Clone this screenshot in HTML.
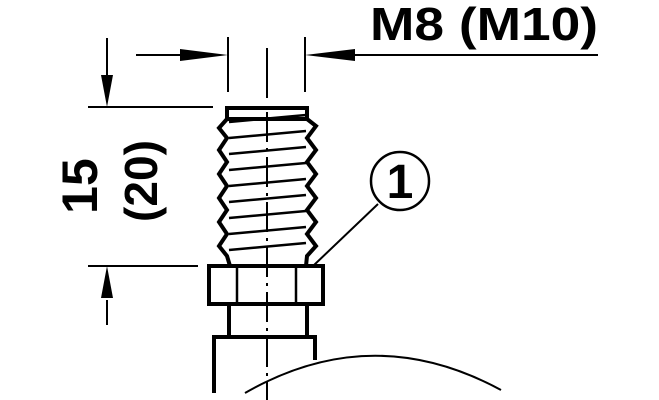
<!DOCTYPE html>
<html><head><style>html,body{margin:0;padding:0;background:#fff}svg{display:block}</style></head>
<body>
<svg width="659" height="400" viewBox="0 0 659 400" xmlns="http://www.w3.org/2000/svg">
<g stroke="#000" fill="none" stroke-width="2">
<line x1="228" y1="37" x2="228" y2="92"/>
<line x1="305" y1="37" x2="305" y2="92"/>
<line x1="267" y1="48" x2="267" y2="98"/>
<line x1="136" y1="55" x2="190" y2="55"/>
<line x1="345" y1="55" x2="598" y2="55"/>
<line x1="88" y1="107" x2="213" y2="107"/>
<line x1="88" y1="266" x2="198" y2="266"/>
<line x1="107" y1="38" x2="107" y2="80"/>
<line x1="107" y1="300" x2="107" y2="325"/>
<line x1="378" y1="204" x2="313" y2="266"/>
<circle cx="400" cy="181" r="29" stroke-width="2.5"/>
<path d="M245 393 Q372 320 501 390"/>
</g>
<g fill="#000">
<polygon points="228,55 180,49 180,61"/>
<polygon points="305,55 355,49 355,61"/>
<polygon points="107,107 101,75 113,75"/>
<polygon points="107,266 101,298 113,298"/>
</g>
<g stroke="#000" fill="none" stroke-width="4" stroke-linejoin="miter">
<rect x="227" y="108" width="80" height="11"/>
<path d="M227 119 L219 128 L227 138 L219 150 L227 162 L219 174 L227 186 L219 198 L227 210 L219 222 L227 234 L219 246 L227 256 L230 266"/>
<path d="M307 119 L316 126 L307 138 L316 150 L307 162 L316 174 L307 186 L316 198 L307 210 L316 222 L307 234 L316 246 L307 256 L306 266"/>
<rect x="209" y="266" width="114" height="38"/>
<line x1="237" y1="266" x2="237" y2="304" stroke-width="2.5"/>
<line x1="296" y1="266" x2="296" y2="304" stroke-width="2.5"/>
<path d="M229 304 V337 M307 304 V337"/>
<path d="M214 393 V337 H315 V360"/>
</g>
<g stroke="#000" stroke-width="2.5">
<line x1="229" y1="122" x2="306" y2="115"/>
<line x1="229" y1="138" x2="306" y2="131"/>
<line x1="229" y1="154" x2="306" y2="147"/>
<line x1="229" y1="170" x2="306" y2="163"/>
<line x1="229" y1="186" x2="306" y2="179"/>
<line x1="229" y1="202" x2="306" y2="195"/>
<line x1="229" y1="218" x2="306" y2="211"/>
<line x1="229" y1="234" x2="306" y2="227"/>
<line x1="229" y1="250" x2="306" y2="243"/>
</g>
<line x1="267" y1="112" x2="267" y2="400" stroke="#000" stroke-width="2" stroke-dasharray="30,6,3,6"/>
<g font-family="Liberation Sans, sans-serif" font-weight="bold" fill="#000">
<text x="370" y="40" font-size="46" textLength="228" lengthAdjust="spacingAndGlyphs">M8 (M10)</text>
<text x="400" y="198" font-size="48" text-anchor="middle">1</text>
<text transform="translate(97,186) rotate(-90)" font-size="50" text-anchor="middle">15</text>
<text transform="translate(157,181) rotate(-90)" font-size="46" text-anchor="middle" textLength="82" lengthAdjust="spacingAndGlyphs">(20)</text>
</g>
</svg>
</body></html>
